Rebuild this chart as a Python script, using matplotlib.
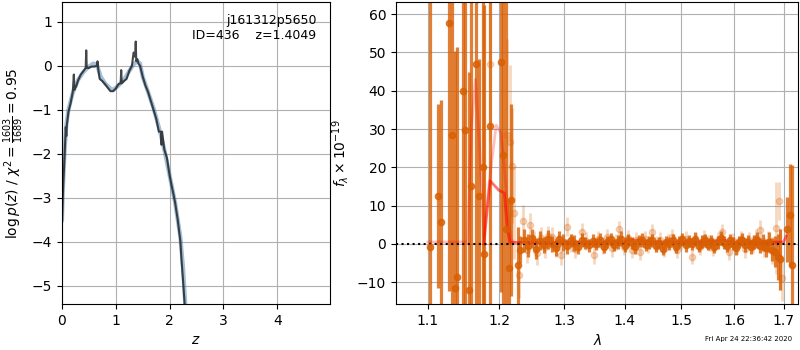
import numpy as np
import matplotlib.pyplot as plt
from matplotlib.ticker import FixedLocator, NullLocator

# p(z) panel - smooth curve (blue) and noisy curve (dark)
z_smooth = [0, 0.02, 0.05, 0.08, 0.12, 0.2, 0.3, 0.4, 0.5, 0.58, 0.65, 0.72, 0.8, 0.9,
            0.95, 1.05, 1.15, 1.25, 1.33, 1.4, 1.45, 1.5, 1.6, 1.7, 1.8, 1.9, 2.0, 2.1,
            2.2, 2.25, 2.3]
logp_smooth = [-3.5, -2.7, -1.9, -1.35, -1.0, -0.62, -0.32, -0.14, -0.02, 0.05, 0.02,
               -0.25, -0.4, -0.52, -0.55, -0.45, -0.32, -0.12, 0.03, 0.1, 0.05, -0.25,
               -0.6, -0.96, -1.4, -1.9, -2.5, -3.1, -3.9, -4.6, -5.6]

z_grid = [0, 0.02, 0.05, 0.07, 0.08, 0.09, 0.12, 0.16, 0.2, 0.22, 0.23, 0.24, 0.26, 0.3,
          0.35, 0.4, 0.44, 0.45, 0.46, 0.5, 0.55, 0.6, 0.65, 0.66, 0.67, 0.7, 0.75, 0.8,
          0.85, 0.9, 0.95, 1.0, 1.05, 1.09, 1.1, 1.11, 1.15, 1.2, 1.25, 1.3, 1.33, 1.36,
          1.37, 1.38, 1.4, 1.42, 1.45, 1.5, 1.55, 1.6, 1.65, 1.7, 1.75, 1.8, 1.84, 1.85,
          1.86, 1.9, 1.95, 2.0, 2.05, 2.1, 2.15, 2.18, 2.2, 2.22, 2.25, 2.3]
logp = [-3.6, -2.8, -2.0, -1.4, -1.6, -1.35, -1.05, -0.85, -0.6, -0.2, -0.55, -0.5,
        -0.48, -0.33, -0.2, -0.12, -0.05, 0.35, -0.05, -0.05, -0.02, -0.02, 0.0, 0.1,
        -0.05, -0.3, -0.35, -0.42, -0.5, -0.58, -0.58, -0.52, -0.42, -0.4, -0.1, -0.4,
        -0.35, -0.3, -0.12, 0.0, 0.3, 0.2, 0.55, 0.1, 0.15, 0.05, 0.0, -0.25, -0.45,
        -0.6, -0.8, -1.0, -1.2, -1.5, -1.5, -1.8, -1.5, -1.9, -2.1, -2.5, -2.8, -3.1,
        -3.5, -3.8, -4.0, -4.4, -4.9, -5.8]

# spectrum panel - first set of spectra (strong)
wave_a = [1.1035, 1.1144, 1.1185, 1.1286, 1.1332, 1.1378, 1.1406, 1.1482, 1.1518, 1.1566,
          1.1603, 1.1670, 1.1717, 1.1766, 1.1789, 1.1871, 1.2037, 1.2066, 1.2107, 1.2151,
          1.2181, 1.2281,
          1.232, 1.238, 1.244, 1.250, 1.256, 1.262, 1.268, 1.274, 1.280, 1.286, 1.292,
          1.298, 1.304, 1.310, 1.316, 1.322, 1.328, 1.334, 1.340, 1.346, 1.352, 1.358,
          1.364, 1.370, 1.376, 1.382, 1.388, 1.394, 1.400, 1.406, 1.412, 1.418, 1.424,
          1.430, 1.436, 1.442, 1.448, 1.454, 1.460, 1.466, 1.472, 1.478, 1.484, 1.490,
          1.496, 1.502, 1.508, 1.514, 1.520, 1.526, 1.532, 1.538, 1.544, 1.550, 1.556,
          1.562, 1.568, 1.574, 1.580, 1.586, 1.592, 1.598, 1.604, 1.610, 1.616, 1.622,
          1.628, 1.634, 1.640, 1.646, 1.652, 1.658, 1.664, 1.670, 1.676, 1.682, 1.688,
          1.693, 1.708, 1.713, 1.717]
flux_a = [-0.9, 12.5, 5.6, 57.8, 28.4, -11.6, -8.6, 39.9, 29.7, -12.0,
          15.1, 47.0, 12.4, 20.0, -2.6, 30.8, 47.5, 23.1, 3.8, -6.3,
          11.5, -5.6,
          -1.5, 1.0, -0.5, 1.5, -1.2, 0.8, -0.3, 1.2, 0.0, -1.0, 1.3,
          0.4, -0.6, 0.9, 0.2, -0.8, 1.1, 0.3, -0.4, 0.8, 0.0, 1.0,
          -0.7, 0.5, 1.2, -0.2, 0.6, 1.4, -0.5, 0.9, 0.2, -0.9, 0.7,
          1.1, -0.3, 0.4, 1.0, -0.6, 0.3, -1.2, 0.6, 0.1, 0.9, -0.8,
          0.5, 1.2, -0.4, 0.7, 0.0, 1.3, -0.5, 0.6, 1.0, -0.2, 0.8,
          -0.7, 0.4, 1.5, 0.3, -0.6, 0.9, 0.1, -1.0, 0.5, 1.1, -0.3,
          0.6, -0.8, 0.4, 1.0, -0.5, 0.3, -1.0, 0.6, -1.5, -2.0, -3.5,
          -4.0, 3.8, 7.6, -5.5]
err_a = [90, 24, 32, 70, 45, 62, 60, 80, 75, 57,
         50, 90, 36, 45, 65, 70, 60, 45, 65, 18,
         25, 10,
         3.5, 3.0, 3.0, 2.5, 2.8, 2.5, 2.2, 2.4, 2.0, 2.2, 2.0,
         2.2, 2.0, 1.8, 2.0, 1.8, 1.8, 1.6, 1.8, 1.7, 1.6, 1.8,
         1.7, 1.6, 1.7, 1.6, 1.8, 1.9, 1.7, 1.8, 1.6, 1.7, 1.6,
         1.8, 1.5, 1.6, 1.7, 1.5, 1.6, 1.7, 1.5, 1.6, 1.7, 1.6,
         1.5, 1.7, 1.6, 1.5, 1.6, 1.7, 1.5, 1.6, 1.7, 1.5, 1.6,
         1.7, 1.6, 1.8, 1.7, 1.6, 1.7, 1.6, 1.8, 1.6, 1.7, 1.8,
         1.7, 1.9, 1.8, 2.0, 2.0, 2.2, 2.4, 2.6, 3.0, 4.0, 6.0,
         8.0, 8.5, 13.3, 26]

# second set of spectra (faint)
wave_b = [1.1876, 1.2117, 1.2158, 1.2200, 1.2230, 1.2300, 1.2366, 1.2420, 1.2467, 1.2520,
          1.2570, 1.2630, 1.2690, 1.2750, 1.2800, 1.2870, 1.2945, 1.3039, 1.3100, 1.3170,
          1.3280, 1.3350, 1.3472, 1.3550, 1.3630, 1.3700, 1.3778, 1.3850, 1.3907, 1.3980,
          1.4050, 1.4120, 1.4190, 1.4265, 1.4340, 1.4400, 1.4470, 1.4540, 1.4610, 1.4680,
          1.4750, 1.4830, 1.4920, 1.5000, 1.5080, 1.5195, 1.5270, 1.5350, 1.5430, 1.5510,
          1.5590, 1.5680, 1.5765, 1.5892, 1.5970, 1.6050, 1.6130, 1.6210, 1.6290, 1.6370,
          1.6440, 1.6520, 1.6600, 1.6680, 1.6760, 1.6847, 1.6894, 1.6930, 1.6966]
flux_b = [47.0, 28.4, 26.7, 20.4, 8.0, -8.1, 6.1, -1.5, 5.0, 0.5,
          -2.4, 1.5, -0.8, 2.0, 1.9, -1.0, -2.9, 4.5, 0.3, -1.2,
          3.0, 0.8, -2.9, 1.2, -0.5, 1.8, -1.1, 0.5, 3.8, -0.8,
          1.5, -1.5, 0.9, -2.0, 1.2, -0.3, 3.2, -0.1, 1.0, -1.3,
          0.6, 1.8, -1.6, 0.4, 1.4, -3.3, 0.8, -0.9, 1.6, 0.2,
          -1.1, 1.0, 3.2, -2.0, 0.7, -0.6, 1.3, -1.4, 0.9, -0.2,
          1.5, 3.65, -0.8, 0.5, -1.8, 4.1, 11.3, -4.0, -9.0]
err_b = [20, 25, 20, 15, 12, 6, 4.0, 3.5, 3.0, 3.0,
         3.0, 2.8, 2.8, 2.6, 2.6, 2.5, 2.5, 2.5, 2.4, 2.4,
         2.4, 2.3, 2.3, 2.2, 2.2, 2.2, 2.2, 2.2, 2.2, 2.2,
         2.1, 2.1, 2.1, 2.1, 2.1, 2.1, 2.1, 2.1, 2.0, 2.0,
         2.0, 2.0, 2.0, 2.0, 2.0, 2.0, 2.0, 2.0, 2.0, 2.0,
         2.0, 2.0, 2.1, 2.1, 2.1, 2.1, 2.2, 2.2, 2.2, 2.3,
         2.4, 2.5, 2.6, 3.0, 3.5, 12, 5.0, 8.0, 6.0]

# models
wave_m1 = [1.100, 1.155, 1.160, 1.166, 1.172, 1.178, 1.187, 1.196, 1.203, 1.208, 1.213,
           1.218, 1.222]
model_1 = [0.5, 0.5, 30, 43, 25, 2, 18, 31, 29, 20, 8, 1, 0.5]
wave_m2 = [1.178, 1.187, 1.200, 1.208, 1.212, 1.216, 1.30, 1.40, 1.409, 1.42, 1.45, 1.55,
           1.57, 1.58, 1.60, 1.65, 1.70, 1.705]
model_2 = [0.0, 16.5, 14.0, 13.3, 4.6, 0.4, 0.4, 0.5, 1.1, 0.9, 0.5, 0.5, 0.9, 1.0, 0.5,
           0.4, 0.5, 2.0]

wave_ticks = [1.1, 1.2, 1.3, 1.4, 1.5, 1.6, 1.7]

fig = plt.figure(figsize=(8, 3.5), dpi=100)
ax1 = fig.add_axes([0.0775, 0.1314, 0.335, 0.863])
ax2 = fig.add_axes([0.495, 0.1314, 0.503, 0.863])

ax1.plot(z_smooth, logp_smooth, color='steelblue', alpha=0.5, lw=3)
ax1.plot(z_grid, logp, color='0.15', alpha=0.85, lw=1.5)
ax1.set_xlim(0, 4.98)
ax1.set_ylim(-5.42, 1.45)
ax1.set_xticks([0, 1, 2, 3, 4])
ax1.grid(True)
ax1.set_xlabel('$z$')
ax1.set_ylabel(r'$\log p(z)$ / $\chi^2=\frac{1603}{1689}=0.95$')
ax1.text(0.95, 0.96, 'j161312p5650\nID=436    z=1.4049', ha='right', va='top',
         transform=ax1.transAxes, fontsize=9, multialignment='right')

col = '#d95f02'
ax2.errorbar(wave_b, flux_b, yerr=err_b, marker='o', ms=4.5, ls='none', color=col,
             alpha=0.25, elinewidth=2)
ax2.errorbar(wave_a, flux_a, yerr=err_a, marker='o', ms=4.5, ls='none', color=col,
             alpha=0.8, elinewidth=2.3)
ax2.plot(wave_m1, model_1, color='r', alpha=0.25, lw=2)
ax2.plot(wave_m2, model_2, color='r', alpha=0.55, lw=2)
ax2.axhline(0, color='k', ls=':', lw=1.5)
ax2.set_xscale('log')
ax2.set_xlim(1.058, 1.731)
ax2.set_ylim(-15.7, 63.2)
ax2.xaxis.set_major_locator(FixedLocator(wave_ticks))
ax2.xaxis.set_minor_locator(NullLocator())
ax2.set_xticklabels([str(t) for t in wave_ticks])
ax2.grid(True)
ax2.set_xlabel(r'$\lambda$')
ax2.set_ylabel(r'$f_\lambda\times10^{-19}$')

fig.text(0.99, 0.031, 'Fri Apr 24 22:36:42 2020', ha='right', va='center', fontsize=5)

fig.savefig('out.png', dpi=100)
